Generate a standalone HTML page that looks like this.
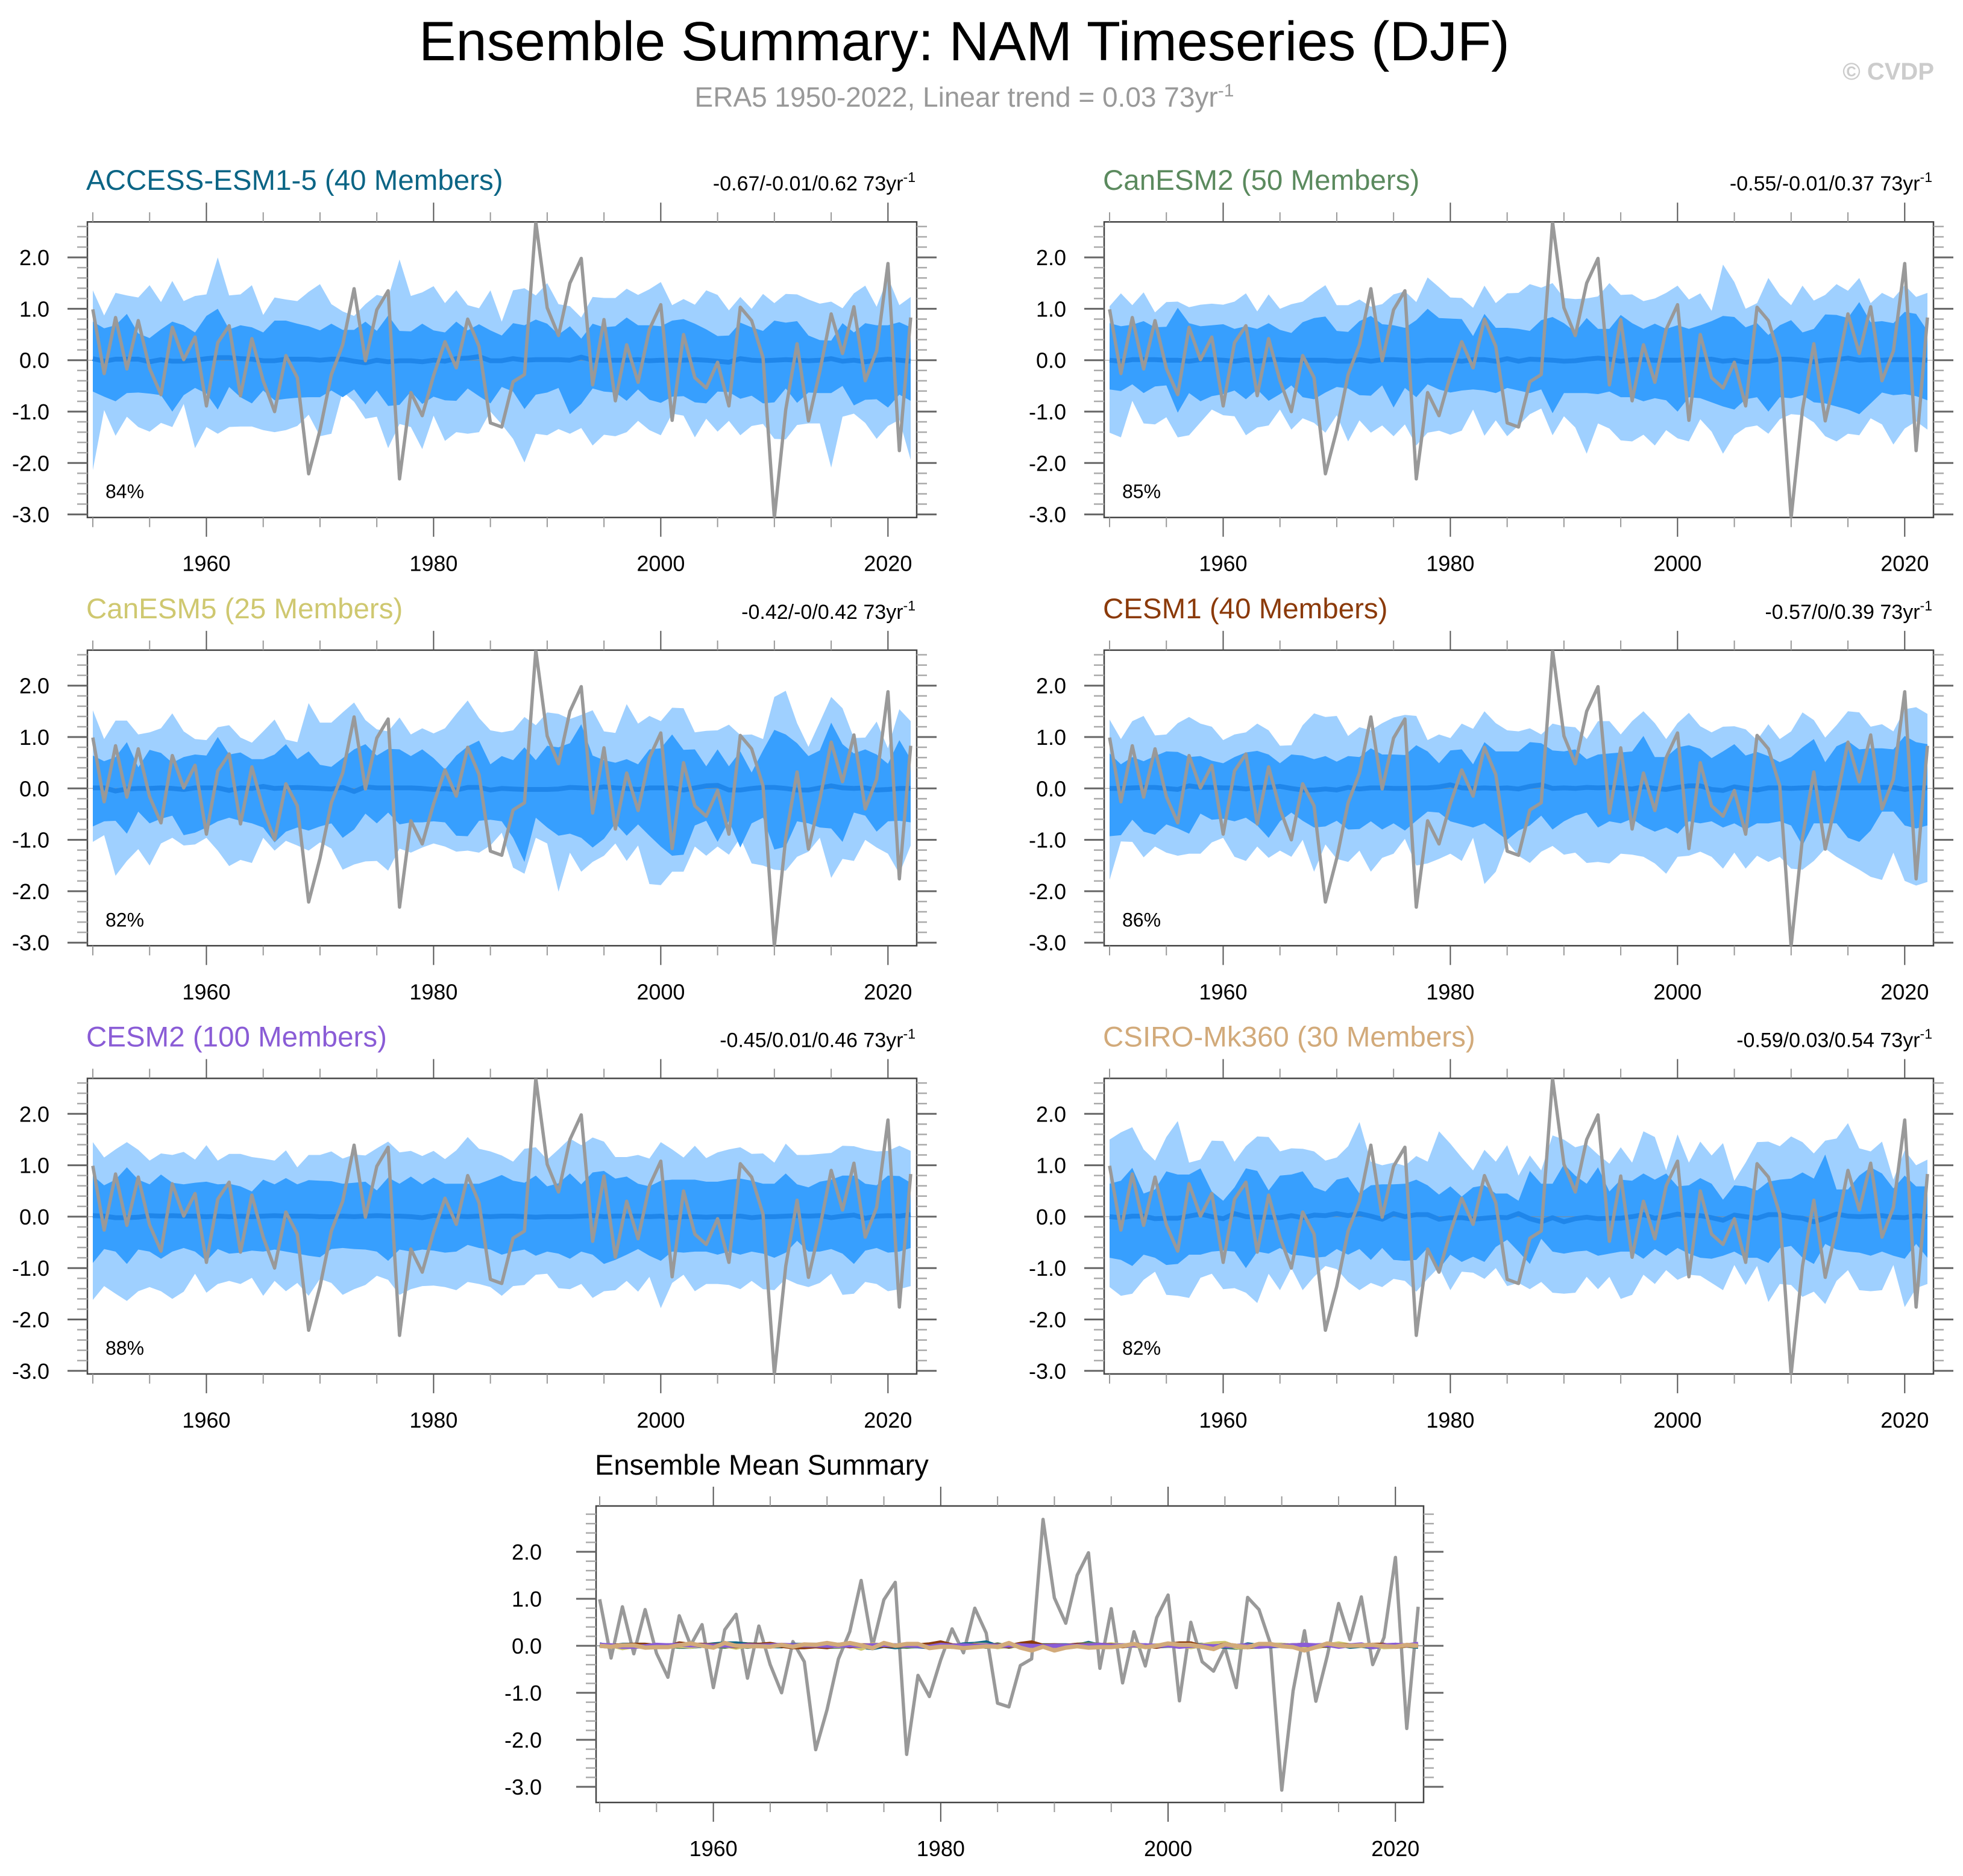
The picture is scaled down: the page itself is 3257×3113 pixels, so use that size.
<!DOCTYPE html>
<html><head><meta charset="utf-8"><title>Ensemble Summary: NAM Timeseries (DJF)</title>
<style>html,body{margin:0;padding:0;background:#fff}svg{display:block}</style></head>
<body>
<svg id="chart" xmlns="http://www.w3.org/2000/svg" width="3257" height="3113" viewBox="0 0 3257 3113" font-family="Liberation Sans, Arial, sans-serif">
<rect x="0" y="0" width="3257" height="3113" fill="#fff"/>
<text x="1600" y="100" font-size="92" text-anchor="middle" fill="#000">Ensemble Summary: NAM Timeseries (DJF)</text>
<text x="1600" y="177" font-size="46" text-anchor="middle" fill="#999">ERA5 1950-2022, Linear trend = 0.03 73yr<tspan dy="-17" font-size="30">-1</tspan></text>
<text x="3209" y="132" font-size="40" font-weight="bold" text-anchor="end" fill="#ccc">© CVDP</text>
<g id="panels"></g>
</svg>
<script>
const startYear = 1950;
const era5 = [0.99,-0.26,0.83,-0.17,0.77,-0.16,-0.67,0.64,0.01,0.45,-0.89,0.34,0.67,-0.69,0.42,-0.40,-1.00,0.09,-0.34,-2.21,-1.36,-0.28,0.30,1.39,-0.01,0.98,1.35,-2.31,-0.63,-1.08,-0.30,0.36,-0.15,0.80,0.27,-1.22,-1.30,-0.42,-0.28,2.69,1.02,0.48,1.50,1.98,-0.48,0.79,-0.79,0.30,-0.43,0.60,1.08,-1.17,0.50,-0.34,-0.54,-0.04,-0.89,1.03,0.77,0.05,-3.07,-0.96,0.32,-1.18,-0.22,0.90,0.13,1.04,-0.40,0.18,1.88,-1.76,0.83];
const modelNames = ["ACCESS-ESM1-5","CanESM2","CanESM5","CESM1","CESM2","CSIRO-Mk360"];
const modelMembers = [40,50,25,40,100,30];
const modelColors = ["#0b6585","#5b8a5e","#cfc870","#8b3a0a","#8a5cd6","#d2aa7a"];
const trendLabels = ["-0.67/-0.01/0.62","-0.55/-0.01/0.37","-0.42/-0/0.42","-0.57/0/0.39","-0.45/0.01/0.46","-0.59/0.03/0.54"];
const pctLabels = ["84%","85%","82%","86%","88%","82%"];
const yTickLabels = ["-3.0","-2.0","-1.0","0.0","1.0","2.0"];
const xTickLabels = ["1960","1980","2000","2020"];

const hi1 = [1.36,0.87,1.31,1.26,1.22,1.46,1.13,1.54,1.15,1.25,1.28,2.0,1.26,1.28,1.46,0.88,1.22,1.18,1.15,1.33,1.48,1.09,0.95,0.86,1.09,1.27,1.22,1.96,1.25,1.32,1.44,1.11,1.36,1.07,1.01,1.36,0.75,1.36,1.40,1.26,1.50,1.09,1.05,0.83,1.23,1.21,1.21,1.39,1.27,1.38,1.52,1.07,1.19,1.08,1.36,1.27,0.97,1.23,1.0,1.29,1.11,1.29,1.28,1.18,1.10,1.14,1.01,1.30,1.45,1.04,1.61,1.07,1.23];
const up1 = [0.75,0.62,0.68,0.90,0.52,0.43,0.60,0.75,0.68,0.54,0.86,1.0,0.60,0.68,0.64,0.54,0.77,0.77,0.71,0.66,0.58,0.71,0.59,0.59,0.75,0.57,0.87,0.57,0.56,0.71,0.58,0.54,0.75,0.58,0.70,0.58,0.48,0.72,0.68,0.79,0.71,0.50,0.66,0.42,0.71,0.64,0.66,0.83,0.68,0.68,0.66,0.77,0.80,0.71,0.60,0.47,0.48,0.73,0.64,0.57,0.77,0.73,0.76,0.48,0.39,0.38,0.72,0.54,0.72,0.68,0.68,0.74,0.64];
const dn1 = [-0.61,-0.71,-0.80,-0.64,-0.63,-0.65,-0.68,-1.0,-0.68,-0.54,-0.65,-0.96,-0.52,-0.72,-0.84,-0.59,-0.78,-0.75,-0.73,-0.72,-0.72,-0.59,-0.72,-0.57,-0.86,-0.59,-0.89,-0.87,-0.61,-0.85,-0.71,-0.78,-0.79,-0.55,-0.70,-0.84,-0.52,-0.61,-0.95,-0.67,-0.63,-0.54,-1.05,-0.85,-0.55,-0.61,-0.63,-0.79,-0.57,-0.77,-0.83,-0.71,-0.70,-0.82,-0.84,-0.61,-0.62,-0.75,-0.69,-0.84,-0.82,-0.55,-0.83,-0.63,-0.64,-0.64,-0.50,-0.88,-0.77,-0.76,-0.92,-0.67,-0.79];
const lo1 = [-2.14,-0.97,-1.47,-1.10,-1.30,-1.39,-1.22,-1.30,-0.85,-1.71,-1.30,-1.43,-1.30,-1.29,-1.29,-1.36,-1.40,-1.36,-1.28,-1.06,-1.48,-1.43,-0.61,-0.81,-1.14,-1.10,-1.71,-1.24,-1.30,-1.73,-1.08,-1.57,-1.40,-1.43,-1.40,-1.0,-1.25,-1.53,-1.99,-1.43,-1.46,-1.34,-1.43,-1.32,-1.66,-1.45,-1.48,-1.40,-1.18,-1.36,-1.46,-1.04,-1.08,-1.50,-1.14,-1.39,-1.18,-1.46,-1.28,-1.24,-1.53,-1.54,-1.26,-1.23,-1.23,-2.09,-1.10,-1.04,-1.22,-1.53,-1.28,-1.16,-1.94];
const mean1 = [0.03,-0.02,0.02,0.02,0.02,-0.03,0.01,-0.02,-0.02,0,0.03,0.05,0.05,0.03,0.02,-0.01,-0.01,0.02,0.02,0.02,0,0.02,0.02,-0.02,-0.05,0,-0.03,-0.01,-0.01,-0.03,0,-0.02,0.03,0.04,0.07,-0.01,-0.01,0.03,0,0.01,0.01,0.01,0,0.06,0,0,0,0,0.01,-0.01,0,0,0,0.01,0,-0.02,-0.04,0.03,0,-0.01,0,0.01,0,-0.01,0,0.03,-0.02,0,-0.03,0,0.02,0,-0.02];

const hi2 = [1.05,1.30,1.07,1.32,0.93,1.13,1.14,1.03,1.08,1.10,1.08,1.14,1.30,0.95,1.28,1.00,1.09,1.14,1.31,1.46,1.07,1.07,1.18,1.04,1.09,1.28,1.34,1.13,1.61,1.42,1.22,1.21,1.02,1.45,1.11,1.30,1.31,1.48,1.41,1.50,1.21,1.19,1.20,1.24,1.50,1.27,1.28,1.15,1.20,1.31,1.45,1.18,1.30,0.96,1.86,1.52,1.00,1.11,1.60,1.27,1.07,1.45,1.16,1.27,1.48,1.35,1.60,1.11,1.31,1.20,1.46,1.23,1.31];
const up2 = [0.72,0.66,0.69,0.76,0.64,0.65,1.02,0.72,0.66,0.68,0.70,0.61,0.66,0.61,0.72,0.59,0.53,0.74,0.82,0.85,0.57,0.55,0.76,0.86,0.70,0.68,0.63,0.78,1.00,0.82,0.81,0.80,0.47,0.90,0.63,0.63,0.61,0.57,0.78,0.84,0.72,0.55,0.82,0.61,0.61,0.88,0.72,0.61,0.71,0.61,0.68,0.61,0.68,0.76,0.86,0.84,0.64,0.72,0.49,0.68,0.78,0.54,0.61,0.89,0.88,0.82,1.13,0.74,0.76,0.72,0.94,0.90,0.57];
const dn2 = [-0.57,-0.60,-0.47,-0.64,-0.51,-0.49,-1.02,-0.64,-0.80,-0.70,-0.66,-0.59,-0.76,-0.57,-0.79,-0.66,-0.49,-0.72,-0.76,-0.63,-0.52,-0.55,-0.68,-0.69,-0.49,-0.92,-0.54,-0.72,-0.47,-0.57,-0.63,-0.59,-0.57,-0.59,-0.64,-0.54,-0.59,-0.64,-0.57,-1.03,-0.64,-0.64,-0.64,-0.66,-0.61,-0.72,-0.72,-0.80,-0.74,-0.78,-1.00,-0.72,-0.74,-0.82,-0.90,-0.96,-0.76,-0.72,-1.00,-0.72,-0.74,-0.68,-0.82,-0.84,-0.90,-0.96,-1.05,-0.84,-0.63,-0.68,-0.66,-0.70,-0.78];
const lo2 = [-1.41,-1.50,-0.79,-1.23,-1.25,-1.11,-1.50,-1.46,-1.21,-0.96,-1.07,-1.09,-1.46,-1.31,-1.27,-0.96,-1.35,-1.13,-1.22,-1.41,-1.07,-1.58,-1.17,-1.41,-1.27,-1.48,-1.25,-1.66,-1.41,-1.37,-1.45,-1.37,-0.96,-1.47,-1.17,-1.48,-1.27,-1.05,-0.94,-1.46,-1.09,-1.31,-1.82,-1.23,-1.33,-1.56,-1.58,-1.45,-1.66,-1.36,-1.52,-1.58,-1.15,-1.39,-1.82,-1.46,-1.31,-1.27,-1.43,-1.15,-1.05,-1.07,-1.21,-1.48,-1.58,-1.43,-1.46,-1.13,-1.25,-1.64,-1.33,-1.19,-1.35];
const mean2 = [0,-0.02,0.01,0.01,0.01,0,0,-0.02,0.01,0.01,0,-0.02,0.01,-0.02,0.01,0.01,0,0,0,0,-0.02,-0.02,0.01,-0.02,0.01,0.01,0,-0.02,0,0,0,-0.02,0.01,0.01,-0.02,0.03,-0.02,0.02,0.01,0,-0.02,-0.01,0.02,0.04,0.02,-0.02,0.01,0.01,0,0,0,0.01,0.01,0.02,-0.02,0,-0.04,-0.02,-0.02,0.02,0.02,0,-0.03,0,0.01,0.04,0,0.01,0,0.01,0.01,0.01,0];

const hi3 = [1.52,0.96,1.32,1.32,1.05,1.09,1.17,1.46,1.11,0.96,0.94,1.19,1.23,0.99,0.89,1.11,1.34,0.95,0.90,1.66,1.28,1.28,1.48,1.67,1.33,1.15,1.11,1.38,1.05,1.17,1.07,1.17,1.45,1.71,1.37,1.13,1.09,1.13,1.39,1.23,1.48,1.45,1.35,1.43,1.52,1.11,1.08,1.64,1.26,1.41,1.31,1.57,1.56,1.09,1.12,1.13,1.24,1.04,1.05,0.96,1.78,1.90,1.27,0.81,1.29,1.78,1.56,0.98,0.99,1.30,0.78,1.54,1.31];
const up3 = [0.64,0.53,0.61,0.90,0.41,0.75,0.69,0.50,0.61,0.66,0.64,1.00,0.66,0.70,0.57,0.57,0.66,0.86,0.57,0.72,0.46,0.42,0.59,0.76,0.86,0.64,0.77,0.76,0.63,0.76,0.59,0.37,0.64,0.82,0.93,0.47,0.63,0.55,0.80,0.55,0.83,0.80,0.88,1.25,0.64,0.55,0.50,0.57,0.47,0.76,0.78,1.05,0.75,0.76,0.43,0.76,0.43,0.72,0.31,0.74,1.14,1.05,0.88,0.63,0.74,1.28,0.86,0.68,0.76,0.66,0.48,0.94,0.57];
const dn3 = [-0.74,-0.64,-0.63,-0.88,-0.45,-0.68,-0.59,-0.53,-0.91,-0.86,-0.76,-0.64,-0.57,-0.63,-0.68,-0.76,-1.05,-0.84,-0.76,-0.82,-0.74,-0.68,-0.96,-0.80,-0.49,-0.68,-0.47,-0.70,-0.66,-0.66,-0.64,-0.66,-0.92,-0.93,-0.63,-0.61,-0.64,-0.96,-1.43,-0.57,-0.76,-0.92,-0.88,-0.96,-1.15,-0.98,-0.68,-0.92,-0.70,-0.92,-1.13,-1.31,-1.29,-0.72,-0.63,-1.04,-0.63,-1.15,-0.68,-0.57,-1.19,-1.13,-0.64,-0.68,-0.76,-0.78,-1.04,-0.47,-0.53,-0.84,-0.64,-0.63,-0.66];
const lo3 = [-1.04,-0.91,-1.70,-1.41,-1.18,-1.50,-1.07,-0.96,-1.11,-1.09,-0.96,-1.21,-1.51,-1.39,-1.45,-0.96,-1.21,-1.02,-1.11,-1.21,-1.05,-1.17,-1.58,-1.48,-1.42,-1.41,-1.60,-1.17,-1.25,-1.15,-1.07,-1.13,-1.23,-1.21,-1.25,-1.11,-0.86,-1.54,-1.66,-0.96,-1.07,-2.01,-1.25,-1.62,-1.43,-1.31,-1.07,-1.41,-1.11,-1.86,-1.88,-1.62,-1.62,-1.13,-1.31,-1.13,-1.29,-0.96,-1.46,-1.50,-1.58,-1.60,-1.33,-1.23,-0.96,-1.74,-1.37,-1.41,-1.00,-1.15,-1.27,-1.66,-1.11];
const mean3 = [0.01,0.01,-0.05,-0.01,0,0,0.01,0,-0.02,0.01,0.01,0.01,-0.04,0.01,0,0.04,0,0.01,0.02,0.01,0,-0.01,0.02,-0.06,0.03,0.01,0.01,0.01,0.01,0,-0.02,0,-0.03,0.02,0.02,-0.03,0,-0.01,-0.02,-0.02,-0.02,-0.01,0.02,0.01,0,0.03,0.01,0,-0.02,0.01,0.01,0.01,-0.03,0.01,0.05,0.06,-0.03,-0.03,0,0.02,0.02,0,-0.03,-0.03,0.01,0.05,0.01,0,0.01,-0.03,-0.02,0,0];

const hi4 = [1.34,0.96,1.31,1.41,1.03,1.05,1.27,1.39,1.26,1.20,0.94,1.05,1.09,1.26,1.13,0.83,0.84,1.23,1.46,1.39,1.41,1.02,1.19,1.13,1.27,1.38,1.43,1.41,0.94,1.05,0.98,1.26,1.16,1.50,1.27,1.13,1.11,1.17,1.05,1.26,1.21,1.19,0.96,1.31,1.31,1.05,1.31,1.50,1.27,0.96,1.27,1.47,1.21,1.09,1.20,1.21,1.15,0.94,1.25,0.96,1.11,1.48,1.33,0.99,1.23,1.50,1.48,1.20,1.25,1.11,1.54,1.58,1.45];
const up4 = [0.68,0.47,0.61,0.53,0.63,0.72,0.71,0.61,0.63,0.54,0.49,0.61,0.70,0.73,0.66,0.49,0.66,0.64,0.57,0.63,0.52,0.63,0.61,0.78,0.66,0.66,0.65,0.84,0.72,0.49,0.74,0.76,0.47,0.90,0.72,0.72,0.72,0.90,0.88,0.74,0.72,0.76,0.57,0.66,0.68,0.70,0.72,1.02,0.61,0.61,0.80,0.84,0.77,0.59,0.72,0.86,0.64,0.71,0.63,0.51,0.61,0.80,0.96,0.51,0.82,0.92,0.76,0.78,0.78,0.76,1.02,0.90,0.86];
const dn4 = [-0.93,-0.91,-0.61,-0.84,-0.90,-0.70,-0.78,-0.88,-0.49,-0.61,-0.59,-0.64,-0.57,-0.72,-0.96,-0.64,-0.47,-0.63,-0.76,-0.74,-0.63,-0.80,-0.79,-0.64,-0.80,-0.68,-0.82,-0.63,-0.45,-0.47,-0.64,-0.70,-0.76,-0.68,-0.84,-1.00,-0.82,-0.72,-0.53,-0.80,-0.64,-0.53,-0.47,-0.76,-0.64,-0.68,-0.59,-0.74,-0.84,-0.76,-0.88,-0.64,-0.68,-0.64,-0.76,-0.68,-0.80,-0.68,-0.68,-0.64,-0.72,-1.11,-0.68,-0.68,-0.68,-0.96,-1.04,-0.82,-0.45,-0.45,-0.72,-0.78,-0.72];
const lo4 = [-1.78,-1.03,-1.04,-1.34,-1.13,-1.25,-1.31,-1.27,-1.27,-1.05,-0.96,-1.33,-1.41,-1.13,-1.35,-1.21,-1.33,-1.00,-1.62,-1.09,-1.37,-1.43,-1.21,-1.62,-1.35,-1.27,-0.98,-1.50,-1.46,-1.37,-1.27,-1.41,-0.96,-1.86,-1.62,-1.04,-1.31,-1.45,-1.23,-1.12,-1.29,-1.25,-1.45,-1.43,-1.46,-1.27,-1.29,-1.33,-1.46,-1.66,-1.33,-1.31,-1.23,-1.33,-1.56,-1.25,-1.56,-1.31,-1.43,-1.33,-1.56,-1.58,-1.41,-1.17,-1.33,-1.46,-1.58,-1.72,-1.78,-1.25,-1.80,-1.89,-1.82];
const mean4 = [0,0,0.01,0.02,0.02,0,-0.02,0.05,0.02,0.02,0.01,0.01,-0.01,0.02,0.02,0.04,0,-0.03,-0.03,-0.01,-0.03,0.02,-0.01,0.01,0.01,0,0,0.01,0.01,0.03,0.07,0.01,0,0.01,0,0.01,-0.01,0.04,0.07,0,0.01,0,0.02,0.01,0.02,0.01,-0.01,0.03,0,-0.02,0.02,0.05,0.05,-0.02,-0.04,0.03,0,-0.03,0.01,0.01,0,0.01,0.02,0,0.01,0.01,0.01,0.01,0.02,0.02,-0.02,0.01,0.01];

const hi5 = [1.45,1.15,1.31,1.45,1.30,1.09,1.23,1.20,1.26,1.11,1.39,1.09,1.22,1.22,1.16,1.13,1.09,1.29,0.96,1.20,1.20,1.27,1.13,1.21,1.19,1.33,1.46,1.25,1.28,1.18,1.28,1.12,1.29,1.55,1.32,1.27,1.19,1.07,1.32,1.35,1.11,1.31,1.52,1.39,1.54,1.46,1.16,1.16,1.20,1.13,1.45,1.31,1.15,1.38,1.14,1.25,1.31,1.35,1.22,1.23,1.05,1.42,1.20,1.20,1.22,1.24,1.38,1.37,1.31,1.27,1.28,1.38,1.28];
const up5 = [0.80,0.61,0.72,0.96,0.72,0.63,0.82,0.66,0.63,0.66,0.68,0.63,0.64,0.59,0.49,0.72,0.63,0.75,0.63,0.71,0.70,0.69,0.64,0.66,0.68,0.51,0.76,0.64,0.78,0.63,0.76,0.64,0.64,0.64,0.64,0.72,0.81,0.70,0.66,0.80,0.59,0.65,0.84,0.63,0.86,0.89,0.74,0.78,0.64,0.59,0.70,0.72,0.72,0.72,0.68,0.68,0.72,0.74,0.70,0.64,0.64,0.84,0.63,0.57,0.68,0.72,0.80,0.80,0.64,0.61,0.80,0.79,0.66];
const dn5 = [-0.90,-0.63,-0.68,-0.92,-0.64,-0.68,-0.82,-0.68,-0.61,-0.68,-0.86,-0.63,-0.72,-0.70,-0.66,-0.68,-0.64,-0.68,-0.72,-0.76,-0.79,-0.63,-0.61,-0.63,-0.64,-0.68,-0.86,-0.64,-0.68,-0.64,-0.66,-0.70,-0.68,-0.55,-0.61,-0.64,-0.74,-0.68,-0.64,-0.76,-0.68,-0.72,-0.82,-0.68,-0.74,-0.92,-0.84,-0.74,-0.63,-0.76,-0.86,-0.68,-0.70,-0.68,-0.68,-0.74,-0.68,-0.74,-0.68,-0.72,-0.80,-0.70,-0.47,-0.68,-0.68,-0.63,-0.72,-0.92,-0.66,-0.61,-0.70,-0.68,-0.61];
const lo5 = [-1.62,-1.35,-1.50,-1.64,-1.45,-1.37,-1.45,-1.60,-1.46,-1.11,-1.48,-1.31,-1.25,-1.31,-1.19,-1.54,-1.25,-1.45,-1.29,-1.54,-1.21,-1.29,-1.52,-1.41,-1.33,-1.15,-1.23,-1.52,-1.41,-1.35,-1.34,-1.37,-1.43,-1.27,-1.31,-1.37,-1.54,-1.35,-1.33,-1.13,-1.11,-1.39,-1.41,-1.31,-1.58,-1.45,-1.43,-1.25,-1.46,-1.17,-1.78,-1.29,-1.13,-1.45,-1.31,-1.31,-1.33,-1.41,-1.25,-1.41,-1.43,-1.21,-1.31,-1.37,-1.29,-1.11,-1.52,-1.50,-1.27,-1.31,-1.45,-1.41,-1.35];
const mean5 = [0.02,0.01,-0.02,-0.02,-0.01,0.02,0.01,0.02,0.01,0.01,0,0.01,0,0.01,0,0.01,0.02,0.01,0.01,0.01,0,0,0.01,0,0.01,0.02,0.01,0.01,0,-0.02,0.02,0,0.01,0,0.01,0,0.01,0.01,0,-0.01,0,0,0,0.01,0.02,0,0.01,0.01,0.01,0,0.01,-0.02,0,0,-0.01,0,0,0.01,-0.02,0,0,0.01,0.02,0.01,0.02,-0.02,0.01,0.03,-0.03,0.01,0.02,0.01,0.04];

const hi6 = [1.50,1.64,1.74,1.31,1.09,1.55,1.86,1.05,1.11,1.48,1.47,1.07,1.37,1.56,1.55,1.27,1.33,1.32,1.27,1.09,1.15,1.37,1.84,1.07,1.00,1.05,0.99,1.18,1.07,1.66,1.42,1.15,0.90,1.30,1.07,1.39,0.80,1.19,0.90,1.58,1.50,1.35,1.41,1.21,1.03,1.35,1.05,1.66,1.55,0.90,1.60,1.05,1.46,1.19,1.43,0.70,1.05,1.45,1.46,1.37,1.56,1.45,1.23,1.48,1.52,1.82,1.33,1.27,1.46,0.72,1.29,1.00,1.11];
const up6 = [0.64,0.70,0.95,0.45,0.53,0.88,0.82,0.82,0.94,0.49,0.31,0.57,0.94,0.89,0.51,0.80,0.82,0.88,0.57,0.49,0.72,0.77,0.45,0.61,0.63,0.63,0.64,0.72,0.61,0.43,0.59,0.39,0.57,0.61,0.45,0.45,0.31,0.89,0.64,0.64,1.02,0.80,0.64,0.96,0.49,0.72,0.70,0.84,0.72,0.84,0.59,0.61,0.75,0.64,0.33,0.61,0.59,0.51,0.68,0.72,0.74,0.86,0.74,1.21,0.53,0.53,0.80,0.96,0.84,0.55,0.80,0.59,0.59];
const dn6 = [-0.80,-0.84,-0.96,-0.74,-0.80,-0.94,-0.92,-0.74,-0.74,-0.68,-0.66,-0.68,-1.00,-0.68,-0.72,-0.61,-0.74,-0.76,-0.80,-0.78,-0.63,-0.74,-0.63,-0.84,-0.61,-0.84,-0.86,-0.84,-0.61,-1.02,-0.74,-0.88,-0.78,-0.88,-0.59,-0.45,-0.68,-0.92,-0.43,-0.68,-0.72,-0.68,-0.66,-0.76,-0.72,-0.68,-0.68,-0.82,-0.63,-0.76,-0.61,-0.72,-0.80,-0.82,-0.76,-0.68,-0.80,-0.80,-0.90,-0.61,-0.57,-0.80,-0.92,-0.53,-0.64,-0.68,-0.70,-0.76,-0.68,-0.76,-0.82,-0.53,-0.80];
const lo6 = [-1.37,-1.54,-1.50,-1.23,-1.07,-1.52,-1.54,-1.58,-1.19,-1.11,-1.41,-1.39,-1.48,-1.68,-1.11,-1.43,-1.00,-1.43,-1.17,-0.96,-1.02,-1.27,-1.43,-1.29,-1.37,-1.21,-1.25,-1.46,-1.21,-0.98,-1.43,-1.07,-1.09,-1.21,-1.00,-1.35,-1.29,-1.41,-1.27,-1.48,-1.50,-1.48,-1.17,-1.41,-1.17,-1.60,-1.52,-1.13,-1.31,-1.04,-1.23,-1.13,-1.15,-1.29,-1.43,-0.94,-1.33,-0.96,-1.66,-1.31,-1.33,-1.56,-1.46,-1.70,-1.25,-1.04,-1.43,-1.45,-1.43,-0.94,-1.76,-1.39,-1.31];
const mean6 = [0,-0.02,0.01,0.01,-0.04,-0.03,-0.03,0.01,0.05,0,-0.04,0.06,0,-0.01,-0.01,-0.02,0.02,-0.02,0.03,0.02,0.06,0.02,0.06,0.01,-0.05,0.06,0,0.04,0.04,-0.05,-0.02,-0.02,-0.05,-0.03,-0.01,-0.02,0.06,-0.04,-0.1,-0.02,-0.1,-0.04,-0.01,-0.04,-0.03,-0.03,0,0.04,-0.03,0,0.05,0.02,0.02,-0.02,-0.07,0.03,0,-0.03,0.04,0.04,-0.01,-0.03,-0.1,-0.03,0.05,0.01,0,0.01,0.02,-0.01,-0.02,0.02,0];

const bandHi = [hi1,hi2,hi3,hi4,hi5,hi6];
const bandUp = [up1,up2,up3,up4,up5,up6];
const bandDn = [dn1,dn2,dn3,dn4,dn5,dn6];
const bandLo = [lo1,lo2,lo3,lo4,lo5,lo6];
const ensMeans = [mean1,mean2,mean3,mean4,mean5,mean6];

const NS = "http://www.w3.org/2000/svg";
const root = document.getElementById("panels");
function mk(tag, attrs, parent) {
  const e = document.createElementNS(NS, tag);
  for (const k in attrs) e.setAttribute(k, attrs[k]);
  parent.appendChild(e);
  return e;
}
function makeAxes(bx0, by0, bx1, by1, xL, xR, zeroY, unit, yMin, yMax, g, idx, labGap) {
  const xs = y => xL + (y - startYear) * (xR - xL) / 72;
  const ys = v => zeroY - v * unit;
  const box = mk("rect", {x: bx0, y: by0, width: bx1 - bx0, height: by1 - by0, fill: "none", stroke: "#444", "stroke-width": 2.5}, g);
  
  
  for (let k = -30; k <= 30; k += 2) {
    const v = k / 10;
    if (v < yMin || v > yMax) continue;
    const major = (k % 10 === 0);
    const L = major ? 33 : 17;
    const yy = ys(v);
    const col = major ? "#666" : "#aaa";
    const t1 = mk("line", {x1: bx0 - L, x2: bx0, y1: yy, y2: yy, stroke: col, "stroke-width": major ? 3 : 2.5}, g);
    
    
    const t2 = mk("line", {x1: bx1, x2: bx1 + L, y1: yy, y2: yy, stroke: col, "stroke-width": major ? 3 : 2.5}, g);
    
    
  }
  yTickLabels.forEach((lab) => {
    const v = parseFloat(lab);
    if (v < yMin || v > yMax) return;
    const t = mk("text", {x: bx0 - labGap, y: ys(v) + 13, "font-size": 36, "text-anchor": "end", fill: "#000"}, g);
    t.textContent = lab;
    
    
  });
  for (let yr = 1950; yr <= 2020; yr += 5) {
    const major = (yr % 20 === 0);
    const L = major ? 32 : 16;
    const xx = xs(yr);
    const a = mk("line", {x1: xx, x2: xx, y1: by0 - L, y2: by0, stroke: major ? "#555" : "#999", "stroke-width": 2}, g);
    
    
    const b = mk("line", {x1: xx, x2: xx, y1: by1, y2: by1 + L, stroke: major ? "#555" : "#999", "stroke-width": 2}, g);
    
    
  }
  xTickLabels.forEach(lab => {
    const t = mk("text", {x: xs(parseInt(lab)), y: by1 + 89, "font-size": 36, "text-anchor": "middle", fill: "#000"}, g);
    t.textContent = lab;
    
    
  });
  const cp = mk("clipPath", {id: "clip" + idx}, g);
  mk("rect", {x: bx0, y: by0, width: bx1 - bx0, height: by1 - by0}, cp);
  return {xs, ys};
}
function pathOf(arr, xs, ys) {
  return arr.map((v, i) => (i ? "L" : "M") + xs(startYear + i).toFixed(1) + "," + ys(v).toFixed(1)).join(" ");
}
function bandOf(top, bot, xs, ys) {
  let d = top.map((v, i) => (i ? "L" : "M") + xs(startYear + i).toFixed(1) + "," + ys(v).toFixed(1)).join(" ");
  for (let i = bot.length - 1; i >= 0; i--) d += " L" + xs(startYear + i).toFixed(1) + "," + ys(bot[i]).toFixed(1);
  return d + " Z";
}
const colX = [[145, 1521, 154, 1511], [1832, 3208, 1841, 3198]];
const rowZero = [597.7, 1308.3, 2018.9];
const unitP = 85.3;
modelNames.forEach((name, m) => {
  const c = colX[m % 2], z = rowZero[Math.floor(m / 2)];
  const by0 = z - 2.69 * unitP, by1 = z + 3.06 * unitP;
  const g = mk("g", {}, root);
  
  
  const ax = makeAxes(c[0], by0, c[1], by1, c[2], c[3], z, unitP, -3.06, 2.69, g, m, 63);
  const pg = mk("g", {"clip-path": "url(#clip" + m + ")"}, g);
  const b1 = mk("path", {d: bandOf(bandHi[m], bandLo[m], ax.xs, ax.ys), fill: "#9fd0ff", stroke: "none"}, pg);
  
  
  const b2 = mk("path", {d: bandOf(bandUp[m], bandDn[m], ax.xs, ax.ys), fill: "#379ffe", stroke: "none"}, pg);
  
  
  const zl = mk("line", {x1: c[0], x2: c[1], y1: z, y2: z, stroke: "#888", "stroke-width": 1.5, opacity: 0.6}, pg);
  
  
  const ml = mk("path", {d: pathOf(ensMeans[m], ax.xs, ax.ys), fill: "none", stroke: "#1f86ea", "stroke-width": 8, "stroke-linejoin": "round"}, pg);
  
  
  const el = mk("path", {d: pathOf(era5, ax.xs, ax.ys), fill: "none", stroke: "#999", "stroke-width": 5.5, "stroke-linejoin": "round"}, pg);
  
  
  const t = mk("text", {x: c[0] - 2, y: by0 - 53, "font-size": 47.5, fill: modelColors[m]}, g);
  t.textContent = name + " (" + modelMembers[m] + " Members)";
  
  
  const tr = mk("text", {x: c[1] - 2, y: by0 - 52, "font-size": 34, "text-anchor": "end", fill: "#000"}, g);
  tr.textContent = trendLabels[m] + " 73yr";
  const sup = mk("tspan", {dy: -14, "font-size": 23}, tr);
  sup.textContent = "-1";
  
  
  const pc = mk("text", {x: c[0] + 30, y: z + 229, "font-size": 32, fill: "#000"}, g);
  pc.textContent = pctLabels[m];
  
  
});
(function () {
  const g = mk("g", {}, root);
  
  
  const z = 2731, u = 78;
  const ax = makeAxes(989, 2499, 2362, 2991, 995, 2353, z, u, -3.35, 2.96, g, 9, 90);
  const pg = mk("g", {"clip-path": "url(#clip9)"}, g);
  const zl = mk("line", {x1: 989, x2: 2362, y1: z, y2: z, stroke: "#888", "stroke-width": 1.5}, pg);
  
  
  const el = mk("path", {d: pathOf(era5, ax.xs, ax.ys), fill: "none", stroke: "#999", "stroke-width": 5.5, "stroke-linejoin": "round"}, pg);
  
  
  ensMeans.forEach((arr, m) => {
    const p = mk("path", {d: pathOf(arr, ax.xs, ax.ys), fill: "none", stroke: modelColors[m], "stroke-width": 7, "stroke-linejoin": "round"}, pg);
    
    
  });
  const t = mk("text", {x: 987, y: 2447, "font-size": 47, fill: "#000"}, g);
  t.textContent = "Ensemble Mean Summary";
  
  
})();
</script>
</body></html>
